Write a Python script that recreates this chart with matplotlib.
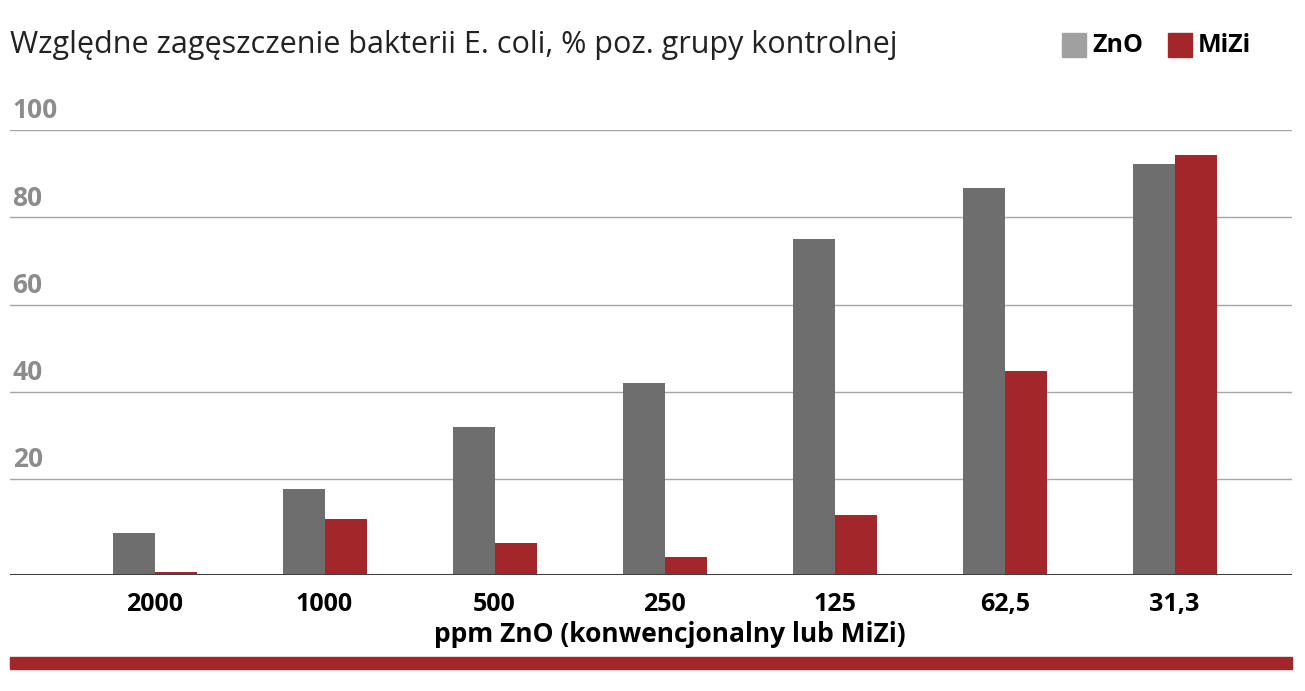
import matplotlib
matplotlib.use("Agg")
import matplotlib.pyplot as plt
import numpy as np

categories = ["2000", "1000", "500", "250", "125", "62,5", "31,3"]
zno = [7.7, 17.7, 31.9, 41.9, 75.1, 86.7, 92.2]
mizi = [-1.3, 10.9, 5.4, 2.2, 11.8, 44.7, 94.3]
yticks = [20, 40, 60, 80, 100]

W, H = 1305, 691
fig = plt.figure(figsize=(W/100, H/100), dpi=100)
ax = fig.add_axes([10/W, 1-575/H, 1282/W, 445/H])
base = -2
x = np.arange(len(categories))
bw = 0.247
ax.bar(x - bw/2, np.array(zno) - base, bw, bottom=base, color="#6e6e6e")
ax.bar(x + bw/2, np.array(mizi) - base, bw, bottom=base, color="#a3262a")
ax.set_xlim(-0.85, 6.69)
ax.set_ylim(base, 100)
for t in yticks:
    ax.axhline(t, color="#a6a6a6", lw=1, zorder=0)
    ax.text(0.002, t + 1.3, str(t), transform=ax.get_yaxis_transform(),
            fontsize=19, color="#8c8c8c", fontweight="bold", fontfamily="Open Sans", va="bottom")
ax.axhline(base, color="#404040", lw=1.5)
for s in ax.spines.values():
    s.set_visible(False)
ax.set_yticks([])
ax.set_xticks(x)
ax.set_xticklabels(categories, fontsize=18, fontweight="bold", fontfamily="Open Sans")
ax.tick_params(axis="x", length=0, pad=12)
fig.text(670/W, 1-635/H, "ppm ZnO (konwencjonalny lub MiZi)", fontsize=19, fontweight="bold",
         fontfamily="Open Sans", ha="center", va="center")
fig.text(10/W, 1-45/H, "Względne zagęszczenie bakterii E. coli, % poz. grupy kontrolnej",
         fontsize=22, fontfamily="Open Sans", color="#222222", va="center")
fig.patches.append(plt.Rectangle((1062/W, 1-57/H), 24/W, 24/H, transform=fig.transFigure, color="#a0a0a0"))
fig.text(1092/W, 1-45/H, "ZnO", fontsize=18, fontweight="bold", fontfamily="Open Sans", va="center")
fig.patches.append(plt.Rectangle((1168/W, 1-57/H), 24/W, 24/H, transform=fig.transFigure, color="#a3262a"))
fig.text(1198/W, 1-45/H, "MiZi", fontsize=18, fontweight="bold", fontfamily="Open Sans", va="center")
fig.patches.append(plt.Rectangle((10/W, 1-669/H), 1282/W, 12/H, transform=fig.transFigure, color="#a3262a"))
fig.savefig("out.png", dpi=100)
